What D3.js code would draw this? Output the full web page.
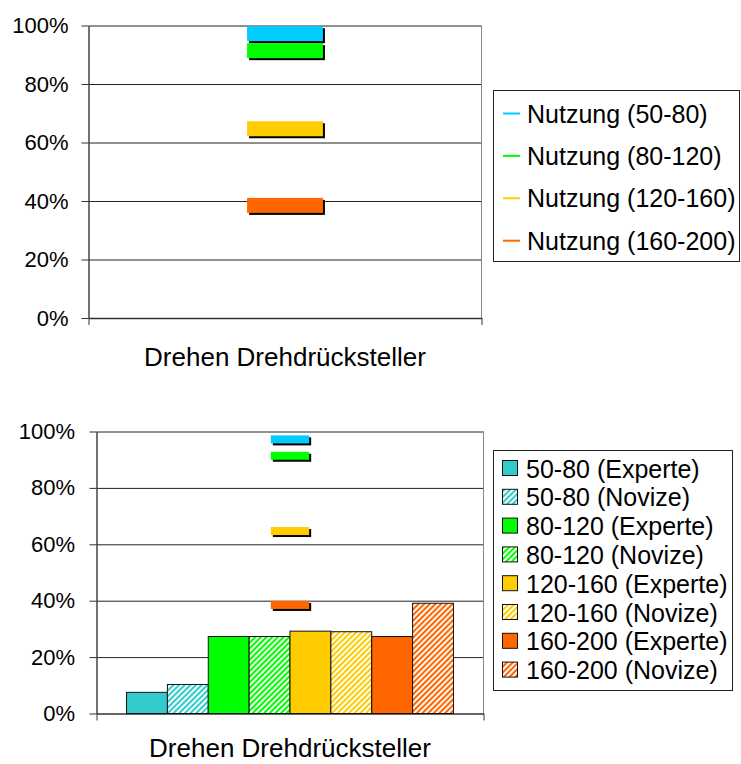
<!DOCTYPE html>
<html>
<head>
<meta charset="utf-8">
<script src="https://cdn.jsdelivr.net/npm/d3@7"></script>
<style>
  html, body { margin: 0; padding: 0; background: #fff; }
  text { font-family: "Liberation Sans", Arial, sans-serif; fill: #000; }
</style>
</head>
<body>
<svg id="chart" width="741" height="764"></svg>
<script>
// ---------- data ----------
const categories = ["Drehen Drehdrücksteller"];
const yTicks = [0, 20, 40, 60, 80, 100];

const usageSeries = ["Nutzung (50-80)", "Nutzung (80-120)", "Nutzung (120-160)", "Nutzung (160-200)"];
const usageValues = [97.2, 91.4, 64.7, 38.5];
const usageColors = ["#00CCFF", "#00FF00", "#FFCC00", "#FF6600"];

const barSeries = ["50-80 (Experte)", "50-80 (Novize)", "80-120 (Experte)", "80-120 (Novize)",
                   "120-160 (Experte)", "120-160 (Novize)", "160-200 (Experte)", "160-200 (Novize)"];
const barValues = [7.5, 10.3, 27.3, 27.3, 29.2, 29.0, 27.3, 39.1];
const barColors = ["#33CCCC", "#33CCCC", "#00FF00", "#00FF00", "#FFCC00", "#FFCC00", "#FF6600", "#FF6600"];
const barHatched = [false, true, false, true, false, true, false, true];

// ---------- setup ----------
const svg = d3.select("#chart");
svg.append("rect").attr("width", 741).attr("height", 764).attr("fill", "#fff");
const defs = svg.append("defs");

barColors.forEach((c, i) => {
  if (!barHatched[i]) return;
  const p = defs.append("pattern")
    .attr("id", "hatch" + i)
    .attr("patternUnits", "userSpaceOnUse")
    .attr("width", 4).attr("height", 4)
    .attr("patternTransform", "rotate(45)");
  p.append("rect").attr("width", 4).attr("height", 4).attr("fill", c);
  p.append("rect").attr("x", 0).attr("width", 1.9).attr("height", 4).attr("fill", "#fff");
});

function drawFrame(g, cfg) {
  const { x0, x1, yTop, yBot, labelPad, catBaseline } = cfg;
  const y = d3.scaleLinear().domain([0, 100]).range([yBot, yTop]);
  const xBand = d3.scaleBand().domain(categories).range([x0, x1]).padding(0);

  // gridlines
  g.append("g")
    .attr("transform", `translate(${x0},0)`)
    .call(d3.axisLeft(y).tickValues(yTicks.filter(t => t > 0)).tickSize(-(x1 - x0)).tickFormat(""))
    .call(s => s.select(".domain").remove())
    .call(s => s.selectAll("line").attr("stroke", "#222").attr("stroke-width", 1));

  // right border
  g.append("line").attr("x1", x1).attr("x2", x1).attr("y1", yTop).attr("y2", yBot)
    .attr("stroke", "#888").attr("stroke-width", 1);

  // y axis
  g.append("g")
    .attr("transform", `translate(${x0},0)`)
    .call(d3.axisLeft(y).tickValues(yTicks).tickSize(7).tickSizeOuter(0).tickPadding(labelPad).tickFormat(d => d + "%"))
    .call(s => s.select(".domain").attr("stroke", "#444").attr("stroke-width", 1.5))
    .call(s => s.selectAll("line").attr("stroke", "#333"))
    .call(s => s.selectAll("text").attr("font-size", 22).attr("font-family", '"Liberation Sans", Arial, sans-serif').attr("fill", "#000"));

  // x axis (ticks at category boundaries)
  const xb = d3.scaleLinear().domain([0, categories.length]).range([x0, x1]);
  g.append("g")
    .attr("transform", `translate(0,${yBot})`)
    .call(d3.axisBottom(xb).tickValues(d3.range(categories.length + 1)).tickSize(7).tickSizeOuter(0).tickFormat(""))
    .call(s => s.select(".domain").attr("stroke", "#333").attr("stroke-width", 1.5))
    .call(s => s.selectAll("line").attr("stroke", "#333"));

  // category labels
  g.selectAll("text.cat").data(categories).enter().append("text")
    .attr("class", "cat")
    .attr("x", d => xBand(d) + xBand.bandwidth() / 2)
    .attr("y", catBaseline)
    .attr("text-anchor", "middle")
    .attr("font-size", 26)
    .text(d => d);

  return { y, xBand };
}

function drawDashes(g, y, xBand, widthFrac, h) {
  const cx = xBand(categories[0]) + xBand.bandwidth() / 2;
  const w = xBand.bandwidth() * widthFrac;
  const dg = g.append("g");
  usageValues.forEach((v, i) => {
    dg.append("rect").attr("x", cx - w / 2 + 2).attr("y", y(v) - h / 2 + 2)
      .attr("width", w).attr("height", h).attr("fill", "#000");
    dg.append("rect").attr("x", cx - w / 2).attr("y", y(v) - h / 2)
      .attr("width", w).attr("height", h).attr("fill", usageColors[i]);
  });
}

// ---------- top chart ----------
const gTop = svg.append("g");
const topChart = drawFrame(gTop, { x0: 88.5, x1: 481.5, yTop: 25.5, yBot: 318, labelPad: 13, catBaseline: 366 });
drawDashes(gTop, topChart.y, topChart.xBand, 0.193, 15);

// top legend
const lgTop = svg.append("g");
lgTop.append("rect").attr("x", 493.5).attr("y", 90.5).attr("width", 246).attr("height", 171)
  .attr("fill", "#fff").attr("stroke", "#222").attr("stroke-width", 1);
usageSeries.forEach((s, i) => {
  const cy = 113.5 + i * 42.4;
  lgTop.append("line").attr("x1", 503).attr("x2", 520).attr("y1", cy).attr("y2", cy)
    .attr("stroke", usageColors[i]).attr("stroke-width", 2);
  lgTop.append("text").attr("x", 527).attr("y", cy).attr("dy", "0.36em")
    .attr("font-size", 25).text(s);
});

// ---------- bottom chart ----------
const gBot = svg.append("g");
const botChart = drawFrame(gBot, { x0: 96.5, x1: 483.5, yTop: 431.5, yBot: 713.5, labelPad: 14.5, catBaseline: 757 });

const xSeries = d3.scaleBand().domain(barSeries)
  .range([botChart.xBand(categories[0]), botChart.xBand(categories[0]) + botChart.xBand.bandwidth()])
  .paddingInner(0).paddingOuter(0.735);

gBot.append("g").selectAll("rect").data(barSeries).enter().append("rect")
  .attr("x", d => xSeries(d))
  .attr("y", (d, i) => botChart.y(barValues[i]))
  .attr("width", xSeries.bandwidth())
  .attr("height", (d, i) => botChart.y(0) - botChart.y(barValues[i]))
  .attr("fill", (d, i) => barHatched[i] ? `url(#hatch${i})` : barColors[i])
  .attr("stroke", "#111").attr("stroke-width", 1);

drawDashes(gBot, botChart.y, botChart.xBand, 0.099, 8);

// bottom legend
const lgBot = svg.append("g");
lgBot.append("rect").attr("x", 493.5).attr("y", 450.5).attr("width", 239).attr("height", 240)
  .attr("fill", "#fff").attr("stroke", "#222").attr("stroke-width", 1);
barSeries.forEach((s, i) => {
  const cy = 468.5 + i * 28.8;
  lgBot.append("rect").attr("x", 502.5).attr("y", cy - 8).attr("width", 15).attr("height", 15)
    .attr("fill", barHatched[i] ? `url(#hatch${i})` : barColors[i])
    .attr("stroke", "#111").attr("stroke-width", 1);
  lgBot.append("text").attr("x", 526).attr("y", cy).attr("dy", "0.36em")
    .attr("font-size", 25).text(s);
});
</script>
</body>
</html>
